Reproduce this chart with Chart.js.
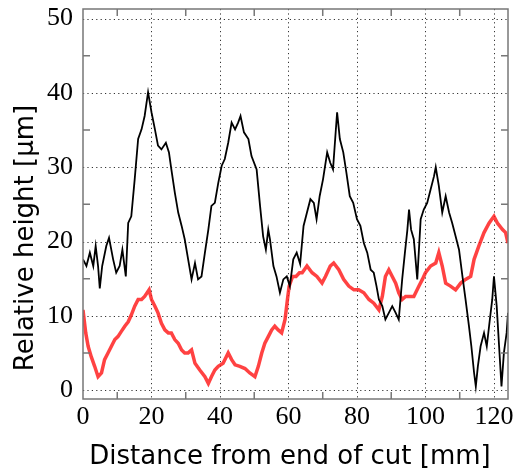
<!DOCTYPE html>
<html>
<head>
<meta charset="utf-8">
<script src="https://cdn.jsdelivr.net/npm/chart.js@4/dist/chart.umd.min.js"></script>
<style>
    body { margin: 0; background: #fff; }
    #wrap { width: 524px; height: 472px; }
</style>
</head>
<body>
<div id="wrap"><canvas id="profileChart" width="524" height="472"></canvas></div>
<script>
// profile: distance [mm] and height [um]
const blackDist = [0, 1, 2, 3, 3.7, 4.4, 4.9, 5.6, 6.8, 7.6, 8.8, 9.7, 10.7, 11.5, 12.5, 13.2, 14.1, 15.1, 16.1, 17.1,
    18, 19, 20, 21, 21.9, 22.9, 24.2, 25.1, 25.8, 26.8, 27.8, 28.8, 29.7, 30.7, 31.7, 32.7, 33.6, 34.6, 35.6, 36.6,
    37.5, 38.5, 39.5, 40.5, 41.4, 42.4, 43.4, 44.4, 45.3, 46, 47, 48.3, 49.2, 50.7, 51.7, 52.6, 53.4, 54.1, 54.6, 55.6,
    56.5, 57.5, 58.5, 59.5, 60.4, 61.4, 62.4, 63.4, 64.4, 65.4, 66.4, 67.4, 68.2, 69.1, 70.1, 71.3, 72.2, 73, 73.7, 74.2,
    75, 76, 76.9, 77.9, 78.9, 80, 81, 82, 83, 84, 84.9, 85.7, 86.4, 87.4, 88.3, 89.3, 90.3, 91.3, 92.2, 93.2,
    94, 94.7, 95.2, 95.8, 96.6, 97.6, 98.6, 99.5, 100.5, 101.5, 102.5, 103, 103.9, 104.9, 105.9, 106.9, 107.8, 108.8, 109.8, 110.8,
    111.7, 112.7, 113.4, 114.2, 114.7, 115.3, 116.1, 117.1, 117.9, 118.8, 119.5, 120, 120.8, 121.5, 122.2, 122.9, 123.7, 124.1];
const blackHeight = [17.6, 16.7, 18.5, 16.7, 19.4, 16.7, 13.7, 16.7, 19.4, 20.5, 17.6, 15.8, 16.7, 18.9, 15.3, 22.5, 23.4, 28.4, 33.8, 35.1,
    36.9, 40.1, 37.4, 35.1, 32.9, 32.4, 33.3, 32, 29.7, 26.6, 23.9, 22.1, 20.3, 17.6, 14.9, 17.1, 14.9, 15.3, 18.5, 21.6,
    24.8, 25.2, 27.9, 30.2, 31.1, 33.3, 36, 35.1, 36, 36.9, 34.7, 33.8, 31.5, 29.7, 24.8, 20.7, 18.9, 21.6, 20.3, 16.7,
    15.3, 13.1, 14.9, 15.3, 14, 17.6, 18.5, 17, 22.1, 23.9, 25.7, 25.2, 23, 26.1, 28.4, 32, 30.6, 29.7, 34.2, 37.4,
    33.8, 32, 29.3, 26.1, 25.2, 23, 22.1, 19.8, 18.5, 16.2, 15.8, 14, 12.2, 11.3, 9.5, 10.4, 11.3, 10.4, 9.5, 14.9,
    18.5, 21.5, 24.3, 21.6, 20.3, 14.9, 23, 24.3, 25.2, 27, 28.8, 30, 27.5, 23.9, 26.1, 23.9, 22.5, 20.7, 18.9, 15.3,
    12.2, 8.6, 5.9, 2.3, 0.5, 3.2, 5.9, 7.7, 5.9, 9.5, 12.2, 15.3, 11.3, 5.9, 0.5, 5, 7.7, 10.4];

const redDist = [0, 0.8, 1.5, 2.4, 3.4, 4.4, 5.4, 6.3, 7.3, 8.3, 9.3, 10.2, 11.2, 12.2, 13.2, 14.1, 15.1, 16.1, 17.1, 18,
    19.3, 20, 21, 21.9, 22.9, 23.9, 24.9, 25.8, 26.8, 27.8, 28.8, 29.7, 30.7, 31.7, 32.7, 34.1, 35.6, 36.6, 37.5, 38.5,
    39.5, 40.9, 42.4, 43.4, 44.4, 45.8, 47.3, 48.7, 50.2, 51.2, 52.2, 53.1, 54.1, 55.1, 56, 57, 58, 59, 59.7, 60.2,
    61.2, 62.2, 63.2, 64, 65.4, 66.9, 68.3, 69.8, 70.8, 72.2, 73.2, 74.7, 76.1, 77.6, 79.1, 80.5, 82, 83.5, 84.9, 86.4,
    87.4, 88.3, 89.3, 90.3, 91.3, 92.2, 93.2, 94.2, 95.2, 96.6, 98.1, 99.1, 100, 101.5, 103, 103.9, 104.9, 105.9, 107.3, 108.8,
    110.3, 111.7, 113.2, 114.2, 115.6, 117.1, 118.6, 120, 121, 122.5, 123.4, 124.1];
const redHeight = [10.8, 7.7, 5.9, 4.5, 3.2, 1.8, 2.3, 4.1, 5, 5.9, 6.8, 7.2, 7.9, 8.6, 9.2, 10.1, 11.3, 12.2, 12.2, 12.6,
    13.5, 12.2, 11.3, 10.4, 9, 8.1, 7.7, 7.7, 6.8, 6.3, 5.4, 5, 5, 5.4, 3.6, 2.7, 1.8, 0.9, 1.8, 2.7,
    3.2, 3.6, 5, 4.1, 3.4, 3.2, 2.9, 2.3, 1.8, 3.2, 5, 6.3, 7.2, 8.1, 8.6, 8.1, 7.7, 9.5, 12.2, 14,
    15.3, 15.3, 15.8, 15.8, 16.7, 15.8, 15.3, 14.4, 15.3, 16.7, 17.1, 16.2, 14.9, 14, 13.5, 13.5, 13.1, 12.2, 11.7, 10.8,
    12.6, 15.3, 16.2, 15.3, 14.4, 13.1, 12.2, 12.6, 12.6, 12.6, 14, 14.9, 15.8, 16.7, 17.1, 18.5, 16.7, 14.4, 14, 13.5,
    14.4, 14.9, 15.3, 17.6, 19.4, 21.2, 22.5, 23.4, 22.5, 21.6, 21.2, 19.8];

const xLabels = [0, 20, 40, 60, 80, 100, 120];
const yLabels = [0, 10, 20, 30, 40, 50];
const xMinor = [10, 30, 50, 70, 90, 110];
const yMinor = [5, 15, 25, 35, 45];

const toPoints = (xs, ys) => xs.map((x, i) => ({x: x, y: ys[i]}));

// dotted grid, gray frame and inward ticks like the original plot
const framePlugin = {
    id: 'frame',
    beforeDatasetsDraw(chart) {
        const {ctx, chartArea: a, scales: {x, y}} = chart;
        ctx.save();
        ctx.strokeStyle = '#333';
        ctx.lineWidth = 1;
        ctx.setLineDash([1.2, 3.2]);
        ctx.beginPath();
        xLabels.forEach(v => {
            if (v === 0) return;
            const px = Math.round(x.getPixelForValue(v)) + 0.5;
            ctx.moveTo(px, a.top);
            ctx.lineTo(px, a.bottom);
        });
        yLabels.forEach(v => {
            const py = Math.round(y.getPixelForValue(v)) + 0.5;
            ctx.moveTo(a.left, py);
            ctx.lineTo(a.right, py);
        });
        ctx.stroke();
        ctx.restore();
    },
    afterDatasetsDraw(chart) {
        const {ctx, chartArea: a, scales: {x, y}} = chart;
        ctx.save();
        ctx.strokeStyle = '#777';
        ctx.lineWidth = 1.5;
        ctx.strokeRect(a.left, a.top, a.right - a.left, a.bottom - a.top);
        ctx.beginPath();
        xMinor.forEach(v => {
            const px = x.getPixelForValue(v);
            ctx.moveTo(px, a.bottom);
            ctx.lineTo(px, a.bottom - 7);
            ctx.moveTo(px, a.top);
            ctx.lineTo(px, a.top + 7);
        });
        yMinor.forEach(v => {
            const py = y.getPixelForValue(v);
            ctx.moveTo(a.left, py);
            ctx.lineTo(a.left + 7, py);
            ctx.moveTo(a.right, py);
            ctx.lineTo(a.right - 7, py);
        });
        ctx.stroke();

        ctx.fillStyle = '#000';
        ctx.font = '26px "DejaVu Sans"';
        ctx.textAlign = 'center';
        ctx.textBaseline = 'middle';
        ctx.fillText('Distance from end of cut [mm]', 290, 457);
        ctx.translate(26, 238);
        ctx.rotate(-Math.PI / 2);
        ctx.fillText('Relative height [\u03bcm]', 0, 0);
        ctx.restore();
    }
};

const ctx = document.getElementById('profileChart').getContext('2d');
new Chart(ctx, {
    type: 'line',
    data: {
        datasets: [{
            label: 'black',
            data: toPoints(blackDist, blackHeight),
            borderColor: '#000',
            borderWidth: 1.8,
            pointRadius: 0,
            tension: 0,
        }, {
            label: 'red',
            data: toPoints(redDist, redHeight),
            borderColor: 'rgba(255, 25, 25, 0.82)',
            borderWidth: 3.5,
            pointRadius: 0,
            tension: 0,
        }],
    },
    options: {
        responsive: false,
        animation: false,
        layout: {
            padding: {top: 9, right: 16, left: 0, bottom: 0},
        },
        plugins: {
            legend: {display: false},
            tooltip: {enabled: false},
        },
        scales: {
            x: {
                type: 'linear',
                min: 0,
                max: 124.1,
                afterBuildTicks: scale => { scale.ticks = xLabels.map(v => ({value: v})); },
                afterFit: scale => {
                    scale.height = 73;
                    scale.paddingLeft = 0;
                    scale.paddingRight = 0;
                },
                grid: {display: false, drawTicks: false},
                border: {display: false},
                ticks: {
                    color: '#000',
                    padding: 3,
                    maxRotation: 0,
                    font: {family: '"Liberation Serif"', size: 26},
                },
            },
            y: {
                type: 'linear',
                min: -1.2,
                max: 51.3,
                afterBuildTicks: scale => { scale.ticks = yLabels.map(v => ({value: v})); },
                afterFit: scale => {
                    scale.width = 83;
                    scale.paddingTop = 0;
                    scale.paddingBottom = 0;
                },
                grid: {display: false, drawTicks: false},
                border: {display: false},
                ticks: {
                    color: '#000',
                    padding: 10,
                    font: {family: '"Liberation Serif"', size: 26},
                },
            },
        },
    },
    plugins: [framePlugin],
});
</script>
</body>
</html>
